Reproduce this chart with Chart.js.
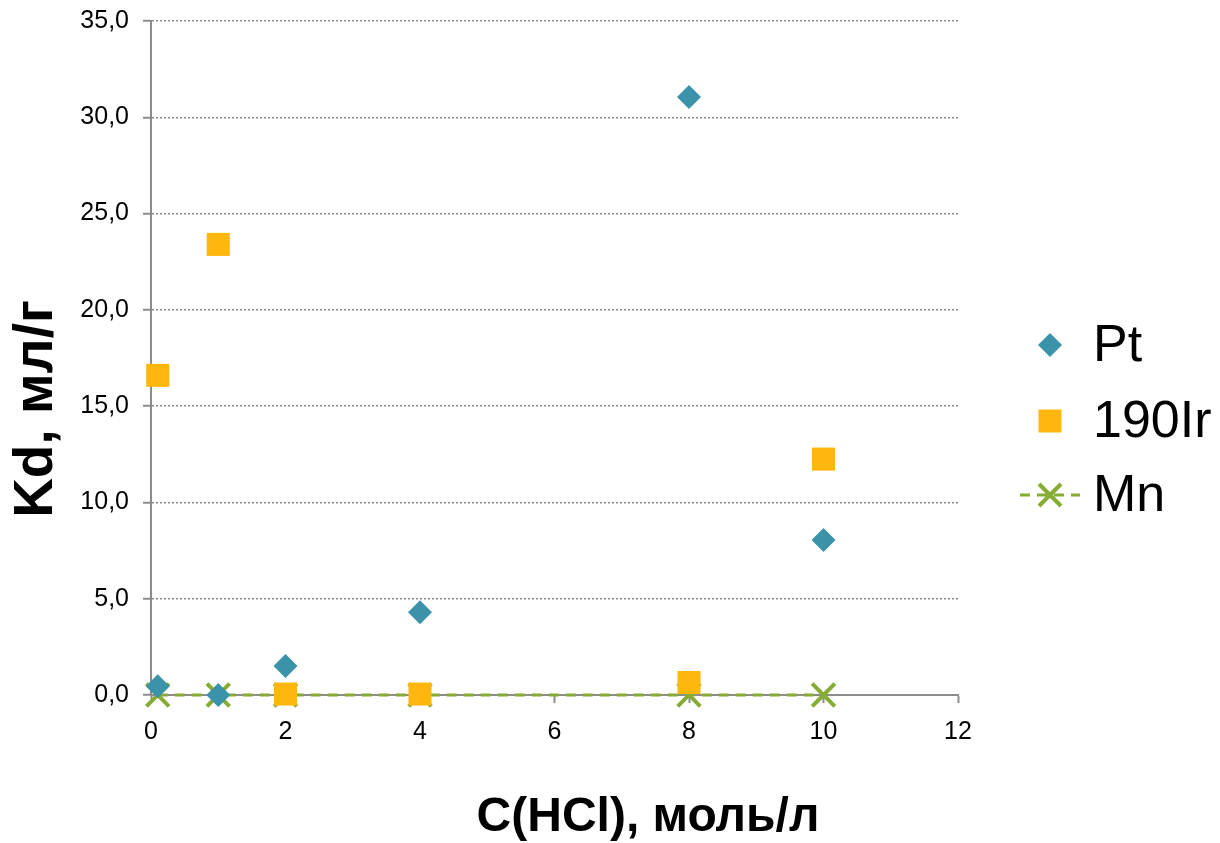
<!DOCTYPE html>
<html>
<head>
<meta charset="utf-8">
<script src="https://cdn.jsdelivr.net/npm/chart.js@4"></script>
<style>
  html, body { margin: 0; padding: 0; background: #fff; }
  #wrap { width: 1220px; height: 843px; }
</style>
</head>
<body>
<div id="wrap"><canvas id="kdChart" width="1220" height="843"></canvas></div>
<script>
// HCl concentration, mol/l
const hclPt = [0.1, 1, 2, 4, 8, 10];
const kdPt = [0.45, 0.0, 1.5, 4.3, 31.05, 8.05];

const hclIr = [0.1, 1, 2, 4, 8, 10];
const kdIr = [16.6, 23.4, 0.05, 0.05, 0.65, 12.25];

const hclMn = [0.1, 1, 2, 4, 8, 10];
const kdMn = [0, 0, 0, 0, 0, 0];

const seriesNames = ['Pt', '190Ir', 'Mn'];
const xTicks = [0, 2, 4, 6, 8, 10, 12];
const yTicks = [0, 5, 10, 15, 20, 25, 30, 35];
const xTitleText = 'C(HCl), моль/л';
const yTitleText = 'Kd, мл/г';

const teal = '#3A93A9';
const orange = '#FFB70D';
const green = '#86AC34';

const toPoints = (xs, ys) => xs.map((x, i) => ({ x: x, y: ys[i] }));

const data = {
    datasets: [{
        label: seriesNames[0],
        data: toPoints(hclPt, kdPt),
        pointStyle: 'rectRot',
        pointRadius: 12,
        pointHoverRadius: 12,
        backgroundColor: teal,
        borderColor: teal,
        borderWidth: 0,
        showLine: false,
        clip: false,
        order: 1
    }, {
        label: seriesNames[1],
        data: toPoints(hclIr, kdIr),
        pointStyle: 'rect',
        pointRadius: 16.3,
        pointHoverRadius: 16.3,
        backgroundColor: orange,
        borderColor: orange,
        borderWidth: 0,
        showLine: false,
        clip: false,
        order: 2
    }, {
        label: seriesNames[2],
        data: toPoints(hclMn, kdMn),
        pointStyle: 'crossRot',
        pointRadius: 16,
        pointHoverRadius: 16,
        pointBorderWidth: 4,
        pointBorderColor: green,
        borderColor: green,
        borderWidth: 3,
        borderDash: [10, 7],
        showLine: true,
        clip: false,
        order: 3
    }]
};

// legend drawn by hand so the Mn entry can show its dashed line
const sideLegend = {
    id: 'sideLegend',
    afterDraw(chart) {
        const ctx = chart.ctx;
        const mx = 1050, tx = 1093;
        const rows = [345, 421, 495];
        ctx.save();
        rows.forEach((y, i) => {
            const ds = chart.data.datasets[i];
            if (i === 0) {
                ctx.fillStyle = teal;
                ctx.beginPath();
                ctx.moveTo(mx - 12, y); ctx.lineTo(mx, y - 12);
                ctx.lineTo(mx + 12, y); ctx.lineTo(mx, y + 12);
                ctx.closePath(); ctx.fill();
            } else if (i === 1) {
                ctx.fillStyle = orange;
                ctx.fillRect(mx - 11.5, y - 11.5, 23, 23);
            } else {
                ctx.strokeStyle = green;
                ctx.lineWidth = 3;
                ctx.setLineDash([10, 7]);
                ctx.beginPath();
                ctx.moveTo(1020, y); ctx.lineTo(1080, y);
                ctx.stroke();
                ctx.setLineDash([]);
                ctx.lineWidth = 4;
                ctx.beginPath();
                ctx.moveTo(mx - 11, y - 11); ctx.lineTo(mx + 11, y + 11);
                ctx.moveTo(mx + 11, y - 11); ctx.lineTo(mx - 11, y + 11);
                ctx.stroke();
            }
            ctx.fillStyle = '#000';
            ctx.font = '52px "Liberation Sans", Arial, sans-serif';
            ctx.textBaseline = 'middle';
            ctx.textAlign = 'left';
            ctx.fillText(ds.label, tx, y + 2);
        });
        ctx.restore();
    }
};

// axis titles are off-centre in the original, so they are placed by hand
const axisTitles = {
    id: 'axisTitles',
    afterDraw(chart) {
        const ctx = chart.ctx;
        ctx.save();
        ctx.fillStyle = '#000';
        ctx.textAlign = 'center';
        ctx.textBaseline = 'middle';
        ctx.font = 'bold 48px "Liberation Sans", Arial, sans-serif';
        ctx.fillText(xTitleText, 648, 818);
        ctx.translate(37, 409);
        ctx.rotate(-Math.PI / 2);
        ctx.font = 'bold 55px "Liberation Sans", Arial, sans-serif';
        ctx.fillText(yTitleText, 0, 0);
        ctx.restore();
    }
};

const tickFont = { family: '"Liberation Sans", Arial, sans-serif', size: 25 };

const config = {
    type: 'scatter',
    data: data,
    options: {
        responsive: false,
        animation: false,
        layout: { padding: { top: 21, right: 262, bottom: 0, left: 0 } },
        plugins: {
            legend: { display: false },
            tooltip: { enabled: false }
        },
        scales: {
            x: {
                type: 'linear',
                min: 0,
                max: 12,
                afterBuildTicks: (scale) => { scale.ticks = xTicks.map(v => ({ value: v })); },
                afterFit: (scale) => {
                    scale.height = 843 - 695;
                    scale.paddingLeft = 0;
                    scale.paddingRight = 0;
                },
                ticks: {
                    color: '#000',
                    padding: 14,
                    font: tickFont
                },
                grid: {
                    drawOnChartArea: false,
                    drawTicks: true,
                    tickLength: 8,
                    tickColor: '#8c8c8c',
                    tickWidth: 2
                },
                border: { color: '#8c8c8c', width: 2 }
            },
            y: {
                type: 'linear',
                min: 0,
                max: 35,
                afterBuildTicks: (scale) => { scale.ticks = yTicks.map(v => ({ value: v })); },
                afterFit: (scale) => {
                    scale.width = 151;
                    scale.paddingTop = 0;
                    scale.paddingBottom = 0;
                },
                ticks: {
                    color: '#000',
                    padding: 14,
                    font: tickFont,
                    callback: (v) => v.toFixed(1).replace('.', ',')
                },
                grid: {
                    color: '#8c8c8c',
                    lineWidth: 1.5,
                    drawTicks: true,
                    tickLength: 8,
                    tickColor: '#8c8c8c',
                    tickWidth: 2,
                    tickBorderDash: []
                },
                border: { color: '#8c8c8c', width: 2, dash: [2, 2] }
            }
        }
    },
    plugins: [sideLegend, axisTitles]
};

window.onload = function() {
    const ctx = document.getElementById('kdChart').getContext('2d');
    new Chart(ctx, config);
};
</script>
</body>
</html>
